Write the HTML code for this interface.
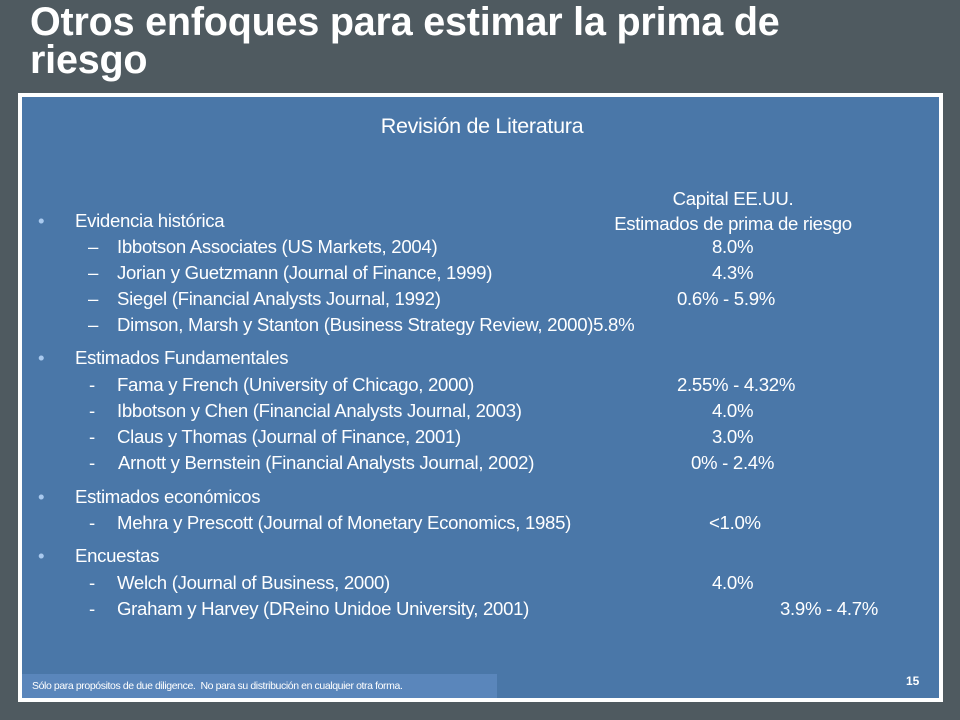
<!DOCTYPE html>
<html><head><meta charset="utf-8"><style>
html,body{margin:0;padding:0}
body{width:960px;height:720px;background:#4f5a60;position:relative;overflow:hidden;font-family:"Liberation Sans",Arial,sans-serif}
.t{position:absolute;white-space:nowrap;color:#fff;font-size:18.6px;line-height:20px;letter-spacing:-0.3px}
#title{position:absolute;left:30px;top:3px;font-size:39.5px;font-weight:bold;color:#fff;line-height:38px;letter-spacing:-0.2px}
#panel{position:absolute;left:18px;top:93px;width:917px;height:601px;border:4px solid #fff;background:#4a77a8}
#foot{position:absolute;left:22px;top:674px;width:475px;height:24px;background:#5a86bb}
</style></head><body>
<div id="title">Otros enfoques para estimar la prima de<br>riesgo</div>
<div id="panel"></div>
<div id="foot"></div>
<div class="t" style="left:0;width:964px;text-align:center;top:114px;font-size:21.5px;line-height:24px">Revisión de Literatura</div>
<div class="t" style="left:583px;width:300px;text-align:center;top:189px">Capital EE.UU.</div>
<div class="t" style="left:583px;width:300px;text-align:center;top:214px">Estimados de prima de riesgo</div>

<div class="t" style="left:38px;top:211px;color:#a9c9ee">•</div>
<div class="t" style="left:75px;top:211px">Evidencia histórica</div>
<div class="t" style="left:88px;top:237px">–</div>
<div class="t" style="left:117px;top:237px">Ibbotson Associates (US Markets, 2004)</div>
<div class="t" style="left:712px;top:237px">8.0%</div>
<div class="t" style="left:88px;top:263px">–</div>
<div class="t" style="left:117px;top:263px">Jorian y Guetzmann (Journal of Finance, 1999)</div>
<div class="t" style="left:712px;top:263px">4.3%</div>
<div class="t" style="left:88px;top:289px">–</div>
<div class="t" style="left:117px;top:289px">Siegel (Financial Analysts Journal, 1992)</div>
<div class="t" style="left:677px;top:289px">0.6% - 5.9%</div>
<div class="t" style="left:88px;top:315px">–</div>
<div class="t" style="left:117px;top:315px">Dimson, Marsh y Stanton (Business Strategy Review, 2000)5.8%</div>

<div class="t" style="left:38px;top:348px;color:#a9c9ee">•</div>
<div class="t" style="left:75px;top:348px">Estimados Fundamentales</div>
<div class="t" style="left:89px;top:375px">-</div>
<div class="t" style="left:117px;top:375px">Fama y French (University of Chicago, 2000)</div>
<div class="t" style="left:677px;top:375px">2.55% - 4.32%</div>
<div class="t" style="left:89px;top:401px">-</div>
<div class="t" style="left:117px;top:401px">Ibbotson y Chen (Financial Analysts Journal, 2003)</div>
<div class="t" style="left:712px;top:401px">4.0%</div>
<div class="t" style="left:89px;top:427px">-</div>
<div class="t" style="left:117px;top:427px">Claus y Thomas (Journal of Finance, 2001)</div>
<div class="t" style="left:712px;top:427px">3.0%</div>
<div class="t" style="left:89px;top:453px">-</div>
<div class="t" style="left:118px;top:453px">Arnott y Bernstein (Financial Analysts Journal, 2002)</div>
<div class="t" style="left:691px;top:453px">0% - 2.4%</div>

<div class="t" style="left:38px;top:487px;color:#a9c9ee">•</div>
<div class="t" style="left:75px;top:487px">Estimados económicos</div>
<div class="t" style="left:89px;top:513px">-</div>
<div class="t" style="left:117px;top:513px">Mehra y Prescott (Journal of Monetary Economics, 1985)</div>
<div class="t" style="left:709px;top:513px">&lt;1.0%</div>

<div class="t" style="left:38px;top:546px;color:#a9c9ee">•</div>
<div class="t" style="left:75px;top:546px">Encuestas</div>
<div class="t" style="left:89px;top:573px">-</div>
<div class="t" style="left:117px;top:573px">Welch (Journal of Business, 2000)</div>
<div class="t" style="left:712px;top:573px">4.0%</div>
<div class="t" style="left:89px;top:599px">-</div>
<div class="t" style="left:117px;top:599px">Graham y Harvey (DReino Unidoe University, 2001)</div>
<div class="t" style="left:780px;top:599px">3.9% - 4.7%</div>

<div class="t" style="left:32px;top:680px;font-size:10.5px;line-height:12px;letter-spacing:-0.4px">Sólo para propósitos de due diligence.&nbsp; No para su distribución en cualquier otra forma.</div>
<div class="t" style="left:906px;top:674px;font-size:12px;font-weight:bold;line-height:14px;letter-spacing:0">15</div>
</body></html>
